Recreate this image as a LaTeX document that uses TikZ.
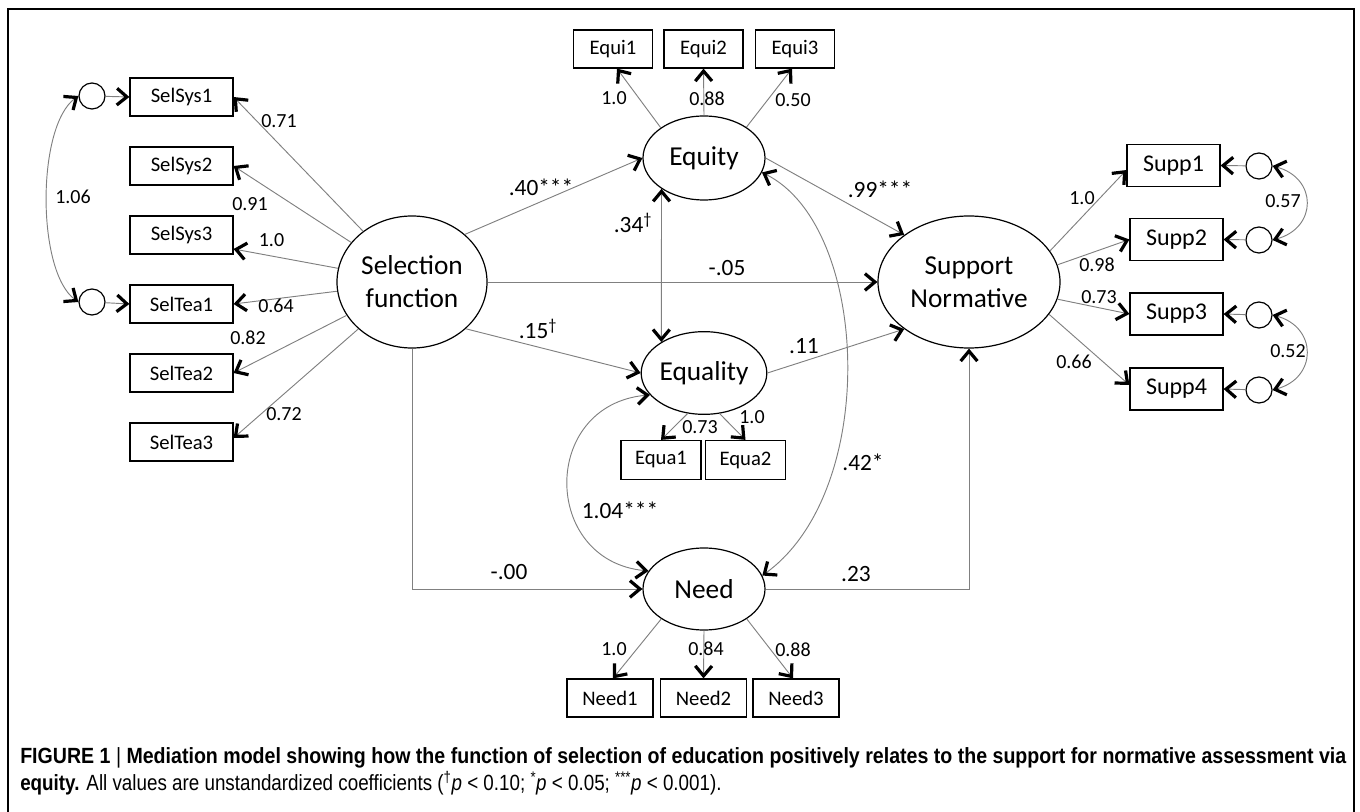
\documentclass[tikz,border=0pt]{standalone}
\usepackage{fontspec}
\usepackage{graphicx}
\setmainfont{Carlito}
\newfontfamily\capfont{Liberation Sans}
\usetikzlibrary{arrows.meta,shapes.geometric,calc}
\newlength\capwA
\newlength\capwB
\newcommand\capfirst{\capfont\fontsize{16.5}{19}\selectfont\bfseries FIGURE 1 {\mdseries|} Mediation model showing how the function of selection of education positively relates to the support for normative assessment via}
\newcommand\capsecond{\capfont\fontsize{16.5}{19}\selectfont\textbf{equity.} All values are unstandardized coefficients (\textsuperscript{†}\textit{p} < 0.10; \textsuperscript{*}\textit{p} < 0.05; \textsuperscript{***}\textit{p} < 0.001).}
\begin{document}
\settowidth\capwA{\capfirst}%
\settowidth\capwB{\capsecond}%
\pgfmathsetmacro\capfac{994.5/\capwA}%
\pgfmathsetmacro\capfacB{526/\capwB}%
\begin{tikzpicture}[x=0.75pt,y=0.75pt,
  >={Straight Barb[length=7.5pt,width=12.5pt,line width=2.4pt,color=black]},
  obs/.style={draw,line width=0.9pt,rectangle,inner sep=0pt,minimum height=28.5pt,font=\fontsize{15.5}{18}\selectfont},
  selbox/.style={obs,minimum width=77.25pt},
  equibox/.style={obs,minimum width=59.25pt},
  equabox/.style={obs,minimum width=60pt,minimum height=29.25pt},
  needbox/.style={obs,minimum width=64.5pt},
  suppbox/.style={obs,minimum width=69.75pt,minimum height=31.5pt,font=\fontsize{18}{21}\selectfont},
  lat/.style={draw,line width=0.9pt,ellipse,inner sep=0pt,align=center,font=\fontsize{20.5}{24.75}\selectfont},
  err/.style={draw,line width=0.9pt,circle,inner sep=0pt,minimum size=19.5pt},
  conn/.style={draw=black!50,line width=0.7pt,->},
  dconn/.style={draw=black!50,line width=0.7pt,<->},
  lab/.style={inner sep=0pt,font=\fontsize{15}{18}\selectfont},
  coef/.style={inner sep=0pt,font=\fontsize{17.5}{21}\selectfont}
]
\useasboundingbox (0,0) rectangle (1360,-812);
\draw[line width=1.6pt] (8,-812) -- (8,-9) -- (1354,-9) -- (1354,-812);

% latent variables
\node[lat,minimum width=112.5pt,minimum height=99pt] (SF) at (412,-282) {Selection\\function};
\node[lat,minimum width=91.5pt,minimum height=63pt] (Equity) at (704,-158) {Equity};
\node[lat,minimum width=91.5pt,minimum height=62pt] (Equality) at (704,-373) {Equality};
\node[lat,minimum width=91.5pt,minimum height=61.5pt] (Need) at (704,-589) {Need};
\node[lat,minimum width=136.5pt,minimum height=99pt] (SN) at (969,-282) {Support\\Normative};

% indicators
\node[selbox] (SelSys1) at (181.5,-97) {SelSys1};
\node[selbox] (SelSys2) at (181.5,-166) {SelSys2};
\node[selbox] (SelSys3) at (181.5,-235) {SelSys3};
\node[selbox] (SelTea1) at (181.5,-304) {SelTea1};
\node[selbox] (SelTea2) at (181.5,-373) {SelTea2};
\node[selbox] (SelTea3) at (181.5,-442) {SelTea3};

\node[equibox] (Equi1) at (613,-49) {Equi1};
\node[equibox] (Equi2) at (703.5,-49) {Equi2};
\node[equibox] (Equi3) at (795,-49) {Equi3};

\node[equabox] (Equa1) at (661,-460) {Equa1};
\node[equabox] (Equa2) at (745.5,-460) {Equa2};

\node[needbox] (Need1) at (610,-698) {Need1};
\node[needbox] (Need2) at (703.5,-698) {Need2};
\node[needbox] (Need3) at (796,-698) {Need3};

\node[suppbox] (Supp1) at (1173.5,-165.5) {Supp1};
\node[suppbox] (Supp2) at (1176.5,-239.5) {Supp2};
\node[suppbox] (Supp3) at (1176.5,-314) {Supp3};
\node[suppbox] (Supp4) at (1176.5,-389) {Supp4};

% error terms
\node[err] (eL1) at (92,-96) {};
\node[err] (eL2) at (92,-302) {};
\node[err] (eR1) at (1259,-166) {};
\node[err] (eR2) at (1259,-240) {};
\node[err] (eR3) at (1259,-315) {};
\node[err] (eR4) at (1259,-390) {};

% selection loadings
\draw[conn] (SF) -- (SelSys1.east);
\draw[conn] (SF) -- (SelSys2.east);
\draw[conn] (SF) -- ([yshift=-10.5pt]SelSys3.east);
\draw[conn] (SF) -- (SelTea1.east);
\draw[conn] (SF) -- (SelTea2.east);
\draw[conn] (SF) -- ([yshift=3pt]SelTea3.east);

\draw[conn] (eL1) -- (SelSys1.west);
\draw[conn] (eL2) -- (SelTea1.west);
\draw[dconn] (eL1.west) .. controls +(-42,-30) and +(-42,30) .. (eL2.west);

% support loadings
\draw[conn] (SN.21) -- ([yshift=-3.4pt]Supp1.west);
\draw[conn] (SN.11) -- (Supp2.west);
\draw[conn] (SN.349) -- (Supp3.west);
\draw[conn] (SN.338) -- ([yshift=3pt]Supp4.west);

\draw[conn] (eR1) -- (Supp1.east);
\draw[conn] (eR2) -- (Supp2.east);
\draw[conn] (eR3) -- (Supp3.east);
\draw[conn] (eR4) -- (Supp4.east);
\draw[dconn] (eR1.east) .. controls +(45,-12) and +(45,12) .. (eR2.east);
\draw[dconn] (eR3.east) .. controls +(45,-12) and +(45,12) .. (eR4.east);

% equity / equality / need loadings
\draw[conn] (Equity.145) -- ([xshift=3pt]Equi1.south);
\draw[conn] (Equity.north) -- (Equi2.south);
\draw[conn] (Equity.36) -- ([xshift=-2.25pt]Equi3.south);

\draw[conn] (Equality.248) -- (Equa1.north);
\draw[conn] (Equality.291) -- (Equa2.north);

\draw[conn] (Need.215) -- ([xshift=2.25pt]Need1.north);
\draw[conn] (Need.south) -- (Need2.north);
\draw[conn] (Need.325) -- ([xshift=-2.25pt]Need3.north);

% structural paths
\draw[conn] (SF.42) -- (Equity.west);
\draw[conn] (SF.east) -- (SN.west);
\draw[conn] (SF.319) -- (Equality.west);
\draw[conn] (Equity.east) -- (SN.144);
\draw[conn] (Equality.east) -- (SN.216);
\draw[dconn] (Equity.216) -- (Equality.144);
\draw[conn] (SF.south) |- (Need.west);
\draw[conn] (Need.east) -| (SN.south);
\draw[dconn] (Equality.202) .. controls +(-110,-10) and +(-107,10) .. (Need.162);
\draw[dconn] (Equity.346) .. controls +(108,-53) and +(118,85) .. (Need.13);

% loading labels
\node[lab] (l1) at (279,-121) {0.71};
\node[lab] (l2) at (250,-204) {0.91};
\node[lab] (l3) at (271.5,-240) {1.0};
\node[lab] (l4) at (276,-306) {0.64};
\node[lab] (l5) at (248,-338) {0.82};
\node[lab] (l6) at (284,-414) {0.72};
\node[lab] (l7) at (73,-197) {1.06};
\node[lab] (l8) at (614,-98) {1.0};
\node[lab] (l9) at (707,-99) {0.88};
\node[lab] (l10) at (793,-100) {0.50};
\node[lab] (l11) at (700,-427) {0.73};
\node[lab] (l12) at (752,-417) {1.0};
\node[lab] (l13) at (614,-649) {1.0};
\node[lab] (l14) at (706,-649) {0.84};
\node[lab] (l15) at (793,-650) {0.88};
\node[lab] (l16) at (1082,-198) {1.0};
\node[lab] (l17) at (1097,-265) {0.98};
\node[lab] (l18) at (1099,-297) {0.73};
\node[lab] (l19) at (1074,-362) {0.66};
\node[lab] (l20) at (1283,-201) {0.57};
\node[lab] (l21) at (1288,-351) {0.52};

% coefficient labels
\node[coef] (c1) at (541,-187) {.40***};
\node[coef] (c2) at (633,-223) {.34\textsuperscript{†}};
\node[coef] (c3) at (727,-268) {-.05};
\node[coef] (c4) at (880,-189) {.99***};
\node[coef] (c5) at (538,-329) {.15\textsuperscript{†}};
\node[coef] (c6) at (804,-346) {.11};
\node[coef] (c7) at (620,-510) {1.04***};
\node[coef] (c8) at (863,-462) {.42*};
\node[coef] (c9) at (509,-572) {-.00};
\node[coef] (c10) at (856,-574) {.23};

% caption
\node[anchor=west,inner sep=0pt] (cap1) at (20,-758) {\scalebox{\capfac}[1]{\capfirst}};
\node[anchor=west,inner sep=0pt] (cap2) at (20,-783) {\scalebox{\capfacB}[1]{\capsecond}};
\end{tikzpicture}
\end{document}
